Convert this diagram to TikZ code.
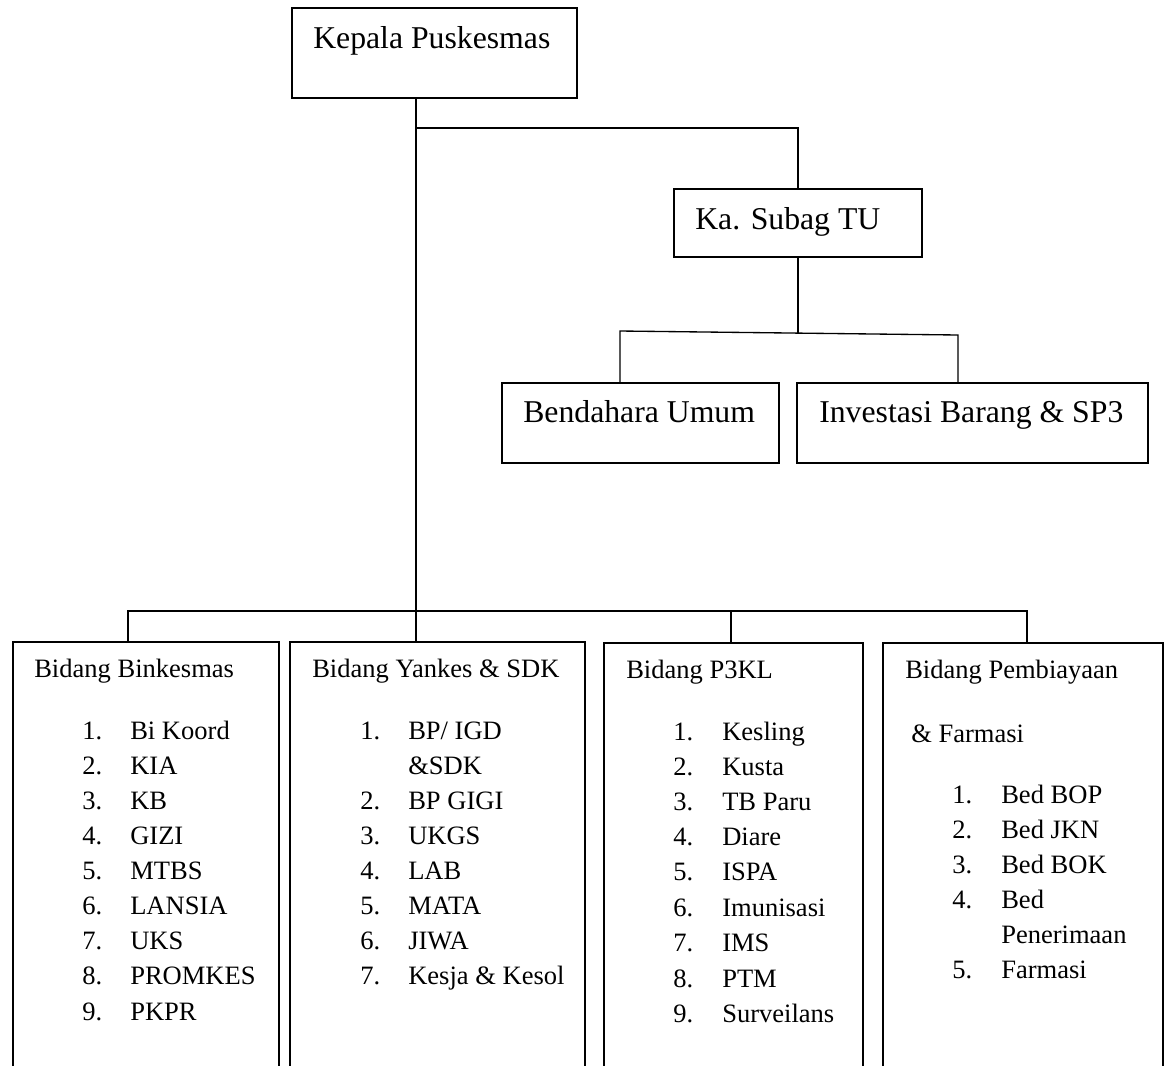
\documentclass[tikz,border=0pt]{standalone}
\usepackage{fontspec}
\setmainfont{Liberation Serif}
\begin{document}
\begin{tikzpicture}[x=0.75pt,y=-0.75pt,
  bx/.style 2 args={draw,line width=1.1pt,inner sep=0pt,outer sep=0pt,anchor=north west,
     minimum width={#1*0.75pt},minimum height={#2*0.75pt}},
  conn/.style={line width=1pt},
  big/.style={anchor=base west,inner sep=0pt,font=\fontsize{23.8}{28}\selectfont},
  small/.style={anchor=base west,inner sep=0pt,font=\fontsize{19.9}{24}\selectfont}]
\useasboundingbox (0,0) rectangle (1165,1065);
\fill[white] (0,0) rectangle (1165,1065);

% boxes
\node[bx={285}{90}] (top) at (292,8) {};
\node[bx={248}{68}] (subag) at (674,189) {};
\node[bx={277}{80}] (bend) at (502,383) {};
\node[bx={351}{80}] (inv) at (797,383) {};
\node[bx={266}{440}] (b1) at (13,642) {};
\node[bx={295}{440}] (b2) at (290,642) {};
\node[bx={259}{440}] (b3) at (604,643) {};
\node[bx={280}{440}] (b4) at (883,643) {};

% titles
\node[big] (ttop) at (313,48) {Kepala Puskesmas};
\node[big] (tsub) at (695,229) {Ka. Subag TU};
\node[big] (tbend) at (523,422) {Bendahara Umum};
\node[big] (tinv) at (819,422) {Investasi Barang \& SP3};

% junction coordinates
\coordinate (j1) at (416,128);
\coordinate (j2) at (416,611);
\coordinate (k0) at (798,333);
\coordinate (k1) at (620,331);
\coordinate (k2) at (958,335);
\coordinate (bl) at (128,611);
\coordinate (bm) at (731,611);
\coordinate (br) at (1027,611);

% connectors
\draw[conn] (top.south -| j1) -- (j2);
\draw[conn] (j1) -| (subag.north);
\draw[conn] (subag.south) -- (k0);
\draw[conn] (bend.north -| k1) -- (k1) -- (k2) -- (inv.north -| k2);
\draw[conn] (b1.north -| bl) -- (bl) -- (br) -- (b4.north -| br);
\draw[conn] (j2) -- (b2.north -| j2);
\draw[conn] (bm) -- (b3.north -| bm);

% box 1
\node[small] (h1) at (34,677) {Bidang Binkesmas};
\foreach \n/\t/\y [count=\k] in {1./Bi Koord/739, 2./KIA/774, 3./KB/809, 4./GIZI/844,
   5./MTBS/879, 6./LANSIA/914, 7./UKS/949, 8./PROMKES/984, 9./PKPR/1020}{
  \node[small] (p1n\k) at (82,\y) {\n};
  \node[small] (p1t\k) at (130,\y) {\t};
}

% box 2
\node[small] (h2) at (312,677) {Bidang Yankes \& SDK};
\node[small] (p2n1) at (360,739) {1.};
\node[small] (p2t1) at (408,739) {BP/ IGD};
\node[small] (p2t1b) at (408,774) {\&SDK};
\node[small] (p2n2) at (360,809) {2.};
\node[small] (p2t2) at (408,809) {BP GIGI};
\node[small] (p2n3) at (360,844) {3.};
\node[small] (p2t3) at (408,844) {UKGS};
\node[small] (p2n4) at (360,879) {4.};
\node[small] (p2t4) at (408,879) {LAB};
\node[small] (p2n5) at (360,914) {5.};
\node[small] (p2t5) at (408,914) {MATA};
\node[small] (p2n6) at (360,949) {6.};
\node[small] (p2t6) at (408,949) {JIWA};
\node[small] (p2n7) at (360,984) {7.};
\node[small] (p2t7) at (408,984) {Kesja \& Kesol};

% box 3
\node[small] (h3) at (626,678) {Bidang P3KL};
\foreach \n/\t/\y [count=\k] in {1./Kesling/740, 2./Kusta/775, 3./TB Paru/810, 4./Diare/845,
   5./ISPA/880, 6./Imunisasi/916, 7./IMS/951, 8./PTM/987, 9./Surveilans/1022}{
  \node[small] (p3n\k) at (673,\y) {\n};
  \node[small] (p3t\k) at (722,\y) {\t};
}

% box 4
\node[small] (h4) at (905,678) {Bidang Pembiayaan};
\node[small] (h4b) at (911,742) {\& Farmasi};
\foreach \n/\t/\y [count=\k] in {1./Bed BOP/803, 2./Bed JKN/838, 3./Bed BOK/873, 4./Bed/908,
   /Penerimaan/943, 5./Farmasi/978}{
  \node[small] (p4n\k) at (952,\y) {\n};
  \node[small] (p4t\k) at (1001,\y) {\t};
}
\end{tikzpicture}
\end{document}
